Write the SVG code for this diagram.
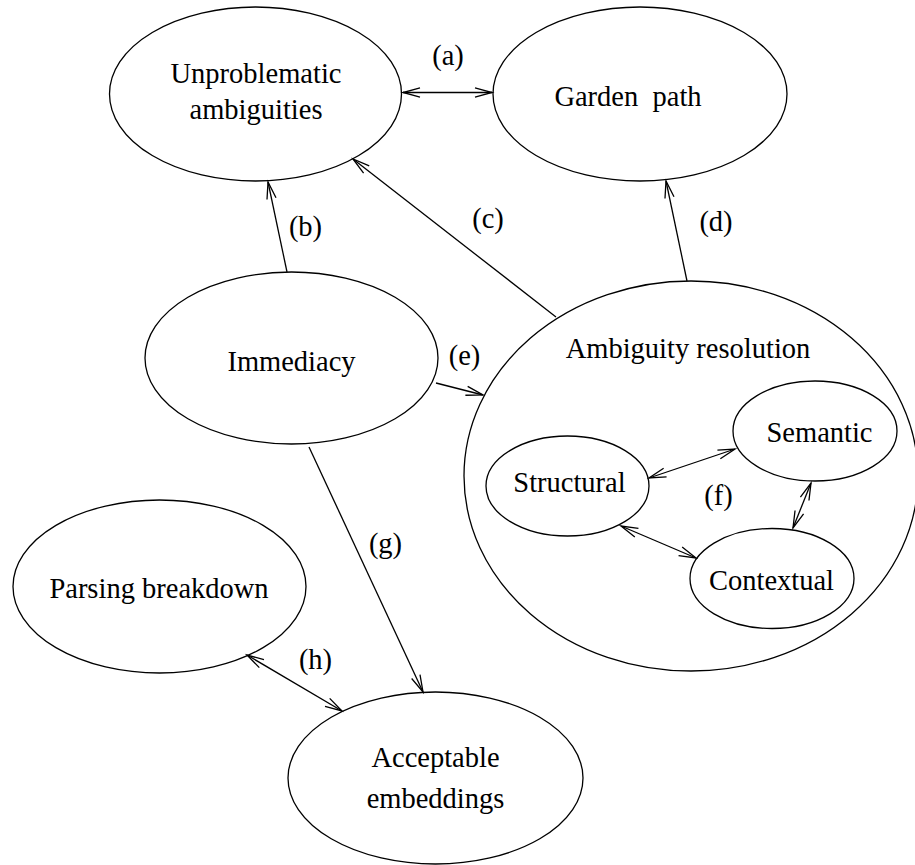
<svg xmlns="http://www.w3.org/2000/svg" width="915" height="865" viewBox="0 0 915 865">
  <style>
    .node { fill: none; stroke: #000; stroke-width: 1.3; }
    .label { font-family: "Liberation Serif", "Times New Roman", serif; font-size: 28.5px; fill: #000; text-anchor: middle; }
    .edge { fill: none; stroke: #000; stroke-width: 1.3; }
    .one { marker-end: url(#head); }
    .two { marker-start: url(#head); marker-end: url(#head); }
  </style>
  <defs>
    <!-- open V arrowhead -->
    <marker id="head" viewBox="-19 -7 21 14" markerWidth="21" markerHeight="14" refX="0" refY="0" markerUnits="userSpaceOnUse" orient="auto-start-reverse" overflow="visible">
      <path d="M-17,-4.6 L0,0 L-17,4.6" fill="none" stroke="#000" stroke-width="1.3"/>
    </marker>
  </defs>
  <rect width="915" height="865" fill="#fff"/>

  <g id="unproblematic">
    <ellipse class="node" cx="255.5" cy="94" rx="146" ry="87"/>
    <text class="label" x="256" y="83">Unproblematic</text>
    <text class="label" x="256" y="119">ambiguities</text>
  </g>

  <g id="garden-path">
    <ellipse class="node" cx="640" cy="94" rx="147" ry="87"/>
    <text class="label" x="628" y="106" xml:space="preserve">Garden  path</text>
  </g>

  <g id="immediacy">
    <ellipse class="node" cx="291.5" cy="358" rx="146.5" ry="86"/>
    <text class="label" x="291.5" y="371">Immediacy</text>
  </g>

  <g id="ambiguity-resolution">
    <ellipse class="node" cx="691" cy="476" rx="227" ry="195"/>
    <text class="label" x="688" y="358">Ambiguity resolution</text>
  </g>

  <g id="structural">
    <ellipse class="node" cx="567.5" cy="486" rx="81.5" ry="50"/>
    <text class="label" x="569.5" y="492">Structural</text>
  </g>

  <g id="semantic">
    <ellipse class="node" cx="815" cy="431" rx="82" ry="50"/>
    <text class="label" x="819.5" y="442">Semantic</text>
  </g>

  <g id="contextual">
    <ellipse class="node" cx="772" cy="578.5" rx="82" ry="50"/>
    <text class="label" x="771.5" y="590">Contextual</text>
  </g>

  <g id="parsing-breakdown">
    <ellipse class="node" cx="159.5" cy="586.5" rx="146.5" ry="86.5"/>
    <text class="label" x="159" y="598">Parsing breakdown</text>
  </g>

  <g id="acceptable-embeddings">
    <ellipse class="node" cx="435.5" cy="778" rx="147.5" ry="86"/>
    <text class="label" x="435.5" y="767">Acceptable</text>
    <text class="label" x="435.5" y="808">embeddings</text>
  </g>

  <g id="connectors">
    <line class="edge two" x1="403" y1="92.5" x2="492" y2="92.5"/>
    <line class="edge one" x1="287" y1="272" x2="268" y2="182"/>
    <line class="edge one" x1="556" y1="317" x2="353" y2="159"/>
    <line class="edge one" x1="687" y1="281" x2="666" y2="181"/>
    <line class="edge one" x1="436" y1="383" x2="483" y2="395"/>
    <line class="edge one" x1="309" y1="447" x2="423" y2="692"/>
    <line class="edge two" x1="247" y1="655" x2="342" y2="711"/>
    <line class="edge two" x1="649" y1="478" x2="735" y2="449"/>
    <line class="edge two" x1="811" y1="483" x2="793" y2="528"/>
    <line class="edge two" x1="621" y1="526" x2="696" y2="558"/>

    <text class="label" x="448" y="65">(a)</text>
    <text class="label" x="305.5" y="236">(b)</text>
    <text class="label" x="488" y="228">(c)</text>
    <text class="label" x="716" y="231">(d)</text>
    <text class="label" x="464.5" y="365">(e)</text>
    <text class="label" x="718.5" y="505">(f)</text>
    <text class="label" x="385.5" y="553">(g)</text>
    <text class="label" x="315.5" y="669">(h)</text>
  </g>
</svg>
